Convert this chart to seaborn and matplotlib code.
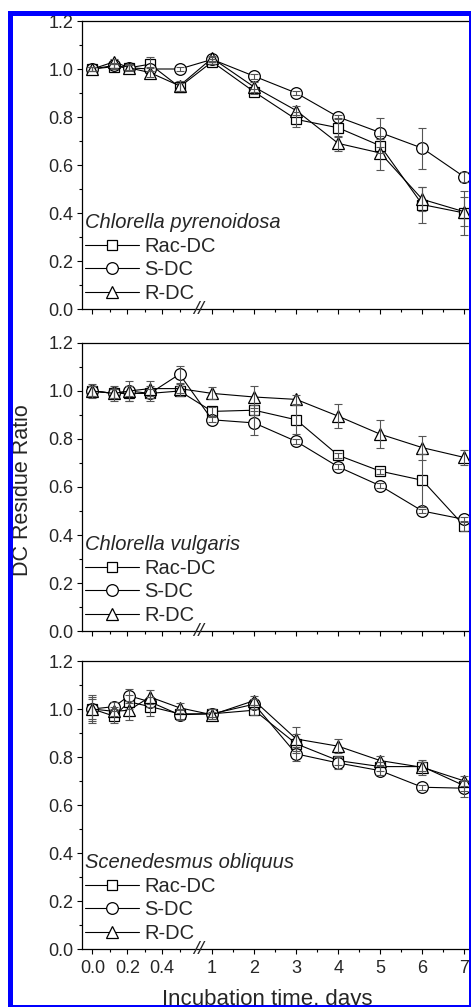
import numpy as np
import pandas as pd
import seaborn as sns
import matplotlib.pyplot as plt
from matplotlib.patches import Rectangle
import matplotlib.transforms as mtransforms

sns.set_style('ticks')
plt.rcParams['font.family'] = ['Liberation Sans', 'DejaVu Sans']

# sampling times in days (0, 3, 5, 8, 12 h then daily)
days = [0.0, 0.125, 0.21, 0.33, 0.5, 1, 2, 3, 4, 5, 6, 7]
compounds = ['Rac-DC', 'S-DC', 'R-DC']
species = ['Chlorella pyrenoidosa', 'Chlorella vulgaris', 'Scenedesmus obliquus']

# Chlorella pyrenoidosa
cp_rac = [1.00, 1.01, 1.005, 1.02, 0.925, 1.03, 0.905, 0.79, 0.755, 0.68, 0.435, 0.40]
cp_s = [1.00, 1.015, 1.005, 1.00, 1.00, 1.04, 0.97, 0.90, 0.80, 0.735, 0.67, 0.55]
cp_r = [1.00, 1.03, 1.005, 0.985, 0.93, 1.045, 0.925, 0.827, 0.69, 0.65, 0.457, 0.405]
cp_rac_err = [0.01, 0.01, 0.015, 0.03, 0.015, 0.01, 0.01, 0.03, 0.04, 0.03, 0.075, 0.09]
cp_s_err = [0.01, 0.01, 0.01, 0.01, 0.01, 0.01, 0.01, 0.01, 0.01, 0.062, 0.085, 0.02]
cp_r_err = [0.01, 0.01, 0.01, 0.02, 0.02, 0.01, 0.02, 0.02, 0.03, 0.07, 0.05, 0.06]

# Chlorella vulgaris
cv_rac = [1.00, 0.99, 0.99, 0.99, 1.00, 0.915, 0.92, 0.88, 0.732, 0.666, 0.628, 0.437]
cv_s = [1.00, 0.99, 1.00, 0.99, 1.07, 0.88, 0.867, 0.79, 0.684, 0.605, 0.50, 0.465]
cv_r = [1.00, 0.99, 1.00, 1.01, 1.01, 0.99, 0.975, 0.965, 0.895, 0.82, 0.764, 0.723]
cv_rac_err = [0.02, 0.02, 0.03, 0.03, 0.02, 0.02, 0.02, 0.06, 0.01, 0.01, 0.11, 0.02]
cv_s_err = [0.02, 0.02, 0.02, 0.02, 0.035, 0.01, 0.05, 0.01, 0.01, 0.01, 0.01, 0.01]
cv_r_err = [0.03, 0.03, 0.04, 0.03, 0.02, 0.025, 0.045, 0.02, 0.05, 0.058, 0.05, 0.03]

# Scenedesmus obliquus
so_rac = [1.00, 0.97, 1.03, 1.01, 0.98, 0.98, 0.995, 0.855, 0.785, 0.76, 0.76, 0.68]
so_s = [1.00, 1.01, 1.055, 1.03, 0.976, 0.98, 1.02, 0.813, 0.775, 0.743, 0.674, 0.67]
so_r = [1.00, 0.99, 0.995, 1.05, 1.005, 0.976, 1.035, 0.875, 0.845, 0.785, 0.757, 0.70]
so_rac_err = [0.05, 0.03, 0.03, 0.04, 0.02, 0.02, 0.02, 0.04, 0.02, 0.02, 0.02, 0.02]
so_s_err = [0.06, 0.02, 0.03, 0.02, 0.02, 0.02, 0.02, 0.03, 0.025, 0.02, 0.01, 0.035]
so_r_err = [0.04, 0.02, 0.04, 0.03, 0.02, 0.01, 0.02, 0.05, 0.03, 0.02, 0.03, 0.02]

panels = [
    (species[0], [cp_rac, cp_s, cp_r], [cp_rac_err, cp_s_err, cp_r_err]),
    (species[1], [cv_rac, cv_s, cv_r], [cv_rac_err, cv_s_err, cv_r_err]),
    (species[2], [so_rac, so_s, so_r], [so_rac_err, so_s_err, so_r_err]),
]

x_major = [0, 0.2, 0.4, 1, 2, 3, 4, 5, 6, 7]
x_major_labels = ['0.0', '0.2', '0.4', '1', '2', '3', '4', '5', '6', '7']
x_minor = [0.1, 0.3, 0.5, 1.5, 2.5, 3.5, 4.5, 5.5, 6.5]


# broken time axis: hours part stretched, days part compressed
def fwd(t):
    t = np.asarray(t, dtype=float)
    return np.where(t <= 0.6, t,
                    np.where(t < 1, 0.6 + (t - 0.6) * 0.2175, 0.687 + (t - 1) * 0.2414))


def inv(u):
    u = np.asarray(u, dtype=float)
    return np.where(u <= 0.6, u,
                    np.where(u < 0.687, 0.6 + (u - 0.6) / 0.2175, 1 + (u - 0.687) / 0.2414))


markers = {'Rac-DC': 's', 'S-DC': 'o', 'R-DC': '^'}
msizes = {'s': 7.0, 'o': 8.4, '^': 9.0}

W, H = 471, 1007
fig = plt.figure(figsize=(W / 100, H / 100), dpi=100)
tops = [21, 343, 661]
ph = 288

for k, (name, vals, errs) in enumerate(panels):
    ax = fig.add_axes([82 / W, (H - tops[k] - ph) / H, 395 / W, ph / H])
    ax.set_xscale('function', functions=(fwd, inv))

    df = pd.DataFrame({
        'time': days * 3,
        'ratio': vals[0] + vals[1] + vals[2],
        'compound': [c for c in compounds for _ in days],
    })
    sns.lineplot(data=df, x='time', y='ratio', style='compound', markers=markers,
                 dashes=False, estimator=None, color='black', linewidth=0.8,
                 markerfacecolor='white', markeredgecolor='black',
                 markeredgewidth=0.9, legend=False, ax=ax)
    handles = list(ax.lines[:3])
    for ln in handles:
        ln.set_markersize(msizes[ln.get_marker()])

    for v, e in zip(vals, errs):
        ax.errorbar(days, v, yerr=e, fmt='none', ecolor='#555555', elinewidth=0.8,
                    capsize=2.9, capthick=0.8, zorder=3)

    ax.set_xlim(-0.06, 7.3)
    ax.set_ylim(0, 1.2)
    ax.set_yticks(np.arange(0, 1.21, 0.2))
    ax.set_yticks(np.arange(0.1, 1.2, 0.2), minor=True)
    ax.set_yticklabels(['0.0', '0.2', '0.4', '0.6', '0.8', '1.0', '1.2'])
    ax.set_xticks(x_major)
    ax.set_xticks(x_minor, minor=True)
    ax.set_xticklabels(x_major_labels)
    ax.tick_params(which='major', direction='out', length=3.6, width=0.8,
                   labelsize=13, pad=2.5, color='black')
    ax.tick_params(axis='x', which='major', pad=4.5)
    ax.tick_params(which='minor', direction='out', length=2, width=0.8, color='black')
    if k < 2:
        ax.tick_params(axis='x', labelbottom=False)
    for sp in ax.spines.values():
        sp.set_linewidth(0.9)
        sp.set_color('black')
    ax.set_xlabel('')
    ax.set_ylabel('')

    # axis break mark
    trans = mtransforms.blended_transform_factory(ax.transData, ax.transAxes)
    ax.text(0.63, 0.0, '//', transform=trans, ha='center', va='center',
            fontsize=14, fontstyle='italic', clip_on=False)

    leg = ax.legend(handles, compounds, title=name, loc='lower left',
                    bbox_to_anchor=(0.008, 0.022), frameon=False, fontsize=14.5,
                    title_fontsize=14.5, handlelength=2.65, handletextpad=0.3,
                    labelspacing=0.22, borderpad=0, borderaxespad=0,
                    alignment='left')
    leg.get_title().set_fontstyle('italic')

fig.text(23 / W, (H - 490) / H, 'DC Residue Ratio', rotation=90, ha='center',
         va='center', fontsize=15.5)
fig.text(267 / W, 1.5 / H, 'Incubation time, days', ha='center', va='baseline',
         fontsize=16)

# blue frame around the figure
fig.patches.append(Rectangle((9.5 / W, 0.5 / H), 461 / W, (H - 13.5) / H,
                             transform=fig.transFigure, fill=False,
                             edgecolor='#0000FF', linewidth=3.6, zorder=10))

fig.savefig('out.png', dpi=100)
